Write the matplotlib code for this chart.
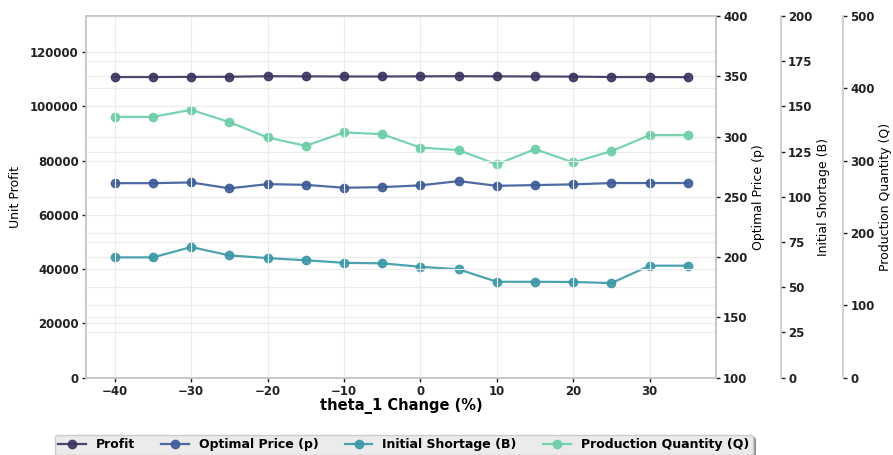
import matplotlib.pyplot as plt
import numpy as np

# theta_1 change (%) and results
theta_change = [-40, -35, -30, -25, -20, -15, -10, -5, 0, 5, 10, 15, 20, 25, 30, 35]
profit = [110800, 110800, 110850, 110900, 111100, 111050, 111000, 111000,
          111050, 111100, 111050, 111000, 110950, 110800, 110800, 110750]
price = [261.3, 261.3, 261.9, 257.0, 260.5, 259.9, 257.5, 258.0,
         259.5, 263.0, 259.1, 259.7, 260.3, 261.4, 261.4, 261.4]
shortage = [66.5, 66.5, 72.2, 67.6, 66.1, 64.9, 63.5, 63.2,
            61.3, 59.9, 53.0, 53.0, 52.9, 52.3, 61.9, 61.9]
quantity = [360.5, 360.5, 370.2, 353.2, 332.0, 320.4, 339.0, 336.6,
            318.0, 314.5, 294.8, 315.9, 297.5, 313.1, 335.2, 335.2]

colors = ["#3d3360", "#3c5b9a", "#3a98a8", "#6acfa5"]

plt.rcParams['font.family'] = ['DejaVu Sans']

fig = plt.figure(figsize=(8.93, 4.55), dpi=100, facecolor="white")
ax = fig.add_axes([0.096, 0.170, 0.706, 0.795])
ax2 = ax.twinx()
ax3 = ax.twinx()
ax4 = ax.twinx()
ax3.spines['right'].set_position(('axes', 1.103))
ax4.spines['right'].set_position(('axes', 1.2016))

line_kw = dict(marker='o', markersize=6, linewidth=1.6, alpha=0.9)
l1, = ax.plot(theta_change, profit, color=colors[0], label="Profit", **line_kw)
l2, = ax2.plot(theta_change, price, color=colors[1], label="Optimal Price (p)", **line_kw)
l3, = ax3.plot(theta_change, shortage, color=colors[2], label="Initial Shortage (B)", **line_kw)
l4, = ax4.plot(theta_change, quantity, color=colors[3], label="Production Quantity (Q)", **line_kw)

ax.set_xlim(-43.8, 38.7)
ax.set_ylim(0, max(profit) * 1.2)
ax.set_yticks(np.arange(0, 120001, 20000))
ax2.set_ylim(100, 400)
ax2.set_yticks(np.arange(100, 401, 50))
ax3.set_ylim(0, 200)
ax3.set_yticks(np.arange(0, 201, 25))
ax4.set_ylim(0, 500)
ax4.set_yticks(np.arange(0, 501, 100))
ax.set_xticks(np.arange(-40, 31, 10))

# grid on every axis, light
for a in (ax, ax2, ax3, ax4):
    a.grid(True, color="#ececec", linewidth=0.8)
    a.set_axisbelow(True)
    for s in a.spines.values():
        s.set_color("#c8c8c8")
        s.set_linewidth(1.2)
    a.tick_params(labelsize=8.5, length=3, width=1, pad=2, colors="#222222")
    for lab in a.get_yticklabels() + a.get_xticklabels():
        lab.set_fontweight('bold')
ax.set_zorder(ax4.get_zorder() + 1)
ax.patch.set_visible(False)

for a in (ax3, ax4):
    a.spines['top'].set_visible(False)
    a.spines['left'].set_visible(False)
    a.spines['bottom'].set_visible(False)

ax.set_xlabel("theta_1 Change (%)", fontsize=10.5, fontweight='bold', labelpad=0)
ax.set_ylabel("Unit Profit", fontsize=9, labelpad=6)
ax2.set_ylabel("Optimal Price (p)", fontsize=9, labelpad=3)
ax3.set_ylabel("Initial Shortage (B)", fontsize=9, labelpad=3)
ax4.set_ylabel("Production Quantity (Q)", fontsize=9, labelpad=3)

leg = fig.legend(handles=[l1, l2, l3, l4], loc='center', ncol=4,
                 bbox_to_anchor=(0.452, 0.022), frameon=True, shadow=True,
                 prop={'weight': 'bold', 'size': 9}, handlelength=2.2,
                 columnspacing=2.1, borderpad=0.3)
leg.get_frame().set_facecolor("#ebebeb")
leg.get_frame().set_edgecolor("#cccccc")

fig.savefig("out.png", dpi=100, facecolor="white")
